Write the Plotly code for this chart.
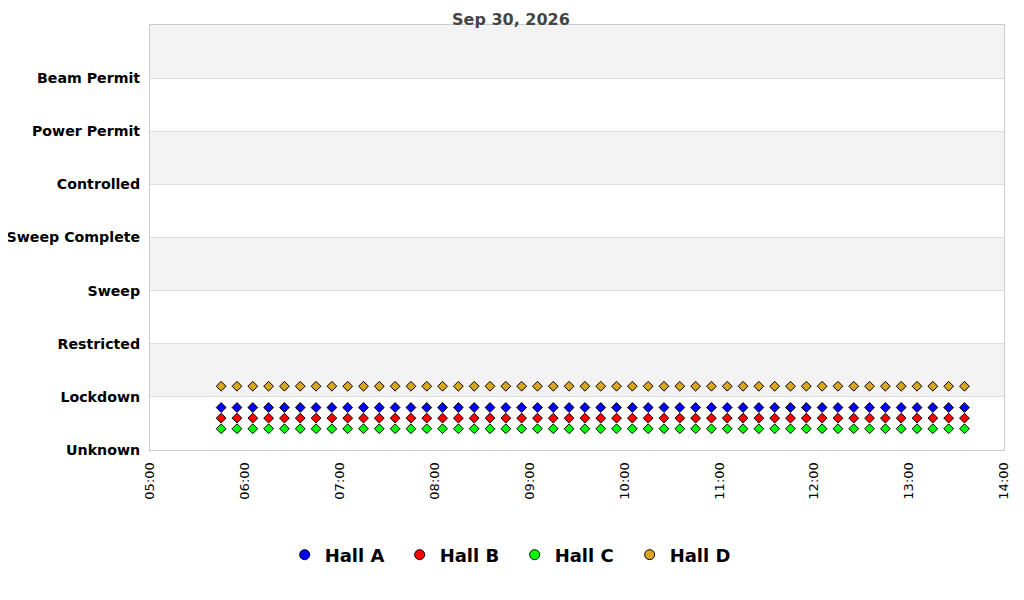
"""Hall interlock state timeline, rebuilt with plotly."""
import plotly.graph_objects as go

# ── data ──────────────────────────────────────────────────────────────────────

DAY = "2026-09-30"

STATES = [
    "Unknown", "Lockdown", "Restricted", "Sweep",
    "Sweep Complete", "Controlled", "Power Permit", "Beam Permit",
]

times = [
    "05:45", "05:55", "06:05", "06:15", "06:25", "06:35", "06:45", "06:55",
    "07:05", "07:15", "07:25", "07:35", "07:45", "07:55", "08:05", "08:15",
    "08:25", "08:35", "08:45", "08:55", "09:05", "09:15", "09:25", "09:35",
    "09:45", "09:55", "10:05", "10:15", "10:25", "10:35", "10:45", "10:55",
    "11:05", "11:15", "11:25", "11:35", "11:45", "11:55", "12:05", "12:15",
    "12:25", "12:35", "12:45", "12:55", "13:05", "13:15", "13:25", "13:35",
]

hall_a = [0.8] * len(times)
hall_b = [0.6] * len(times)
hall_c = [0.4] * len(times)
hall_d = [1.2] * len(times)

x_ticks = ["05:00", "06:00", "07:00", "08:00", "09:00",
           "10:00", "11:00", "12:00", "13:00", "14:00"]

halls = [
    ("Hall A", hall_a, "#0000ff"),
    ("Hall B", hall_b, "#ff0000"),
    ("Hall C", hall_c, "#00ff00"),
    ("Hall D", hall_d, "#daa520"),
]

# ── figure ────────────────────────────────────────────────────────────────────

stamps = [f"{DAY} {t}" for t in times]
tick_vals = [f"{DAY} {t}" for t in x_ticks]

fig = go.Figure()
for name, vals, color in halls:
    fig.add_trace(go.Scatter(
        x=stamps, y=vals, mode="markers", name=name, showlegend=False,
        marker=dict(symbol="diamond", size=7.5, color=color,
                    line=dict(color="black", width=1)),
    ))
    # circle swatch for the legend only
    fig.add_trace(go.Scatter(
        x=[None], y=[None], mode="markers", name=name,
        marker=dict(symbol="circle", size=10, color=color,
                    line=dict(color="black", width=1)),
    ))

# alternating background bands
for lo in range(1, len(STATES) + 1, 2):
    fig.add_shape(type="rect", xref="paper", yref="y", x0=0, x1=1,
                  y0=lo, y1=lo + 1, fillcolor="#f3f3f3", line_width=0,
                  layer="below")

fig.update_layout(
    width=1024, height=600,
    margin=dict(l=142, r=28, t=17, b=158),
    paper_bgcolor="white", plot_bgcolor="white",
    font=dict(family="DejaVu Sans", color="black"),
    showlegend=True,
    legend=dict(orientation="h", x=0.427, xanchor="center", y=-0.247,
                yanchor="middle", entrywidth=70,
                font=dict(family="DejaVu Sans", size=18, color="black",
                          weight="bold")),
    annotations=[dict(
        text="<b>Sep 30, 2026</b>", xref="paper", yref="paper",
        x=0.4227, y=1.04, yanchor="top", showarrow=False,
        font=dict(family="DejaVu Sans", size=16, color="#444"),
    )],
)
fig.update_xaxes(
    type="date", range=[f"{DAY} 05:00", f"{DAY} 14:00"],
    tickvals=tick_vals, ticktext=x_ticks, tickangle=-90,
    tickfont=dict(size=13), showgrid=False, zeroline=False,
    showline=True, linecolor="#cccccc", mirror=True, ticklabelstandoff=6,
    automargin=False,
)
fig.update_yaxes(
    range=[0, len(STATES)], tickvals=list(range(len(STATES))),
    ticktext=[f"<b>{s}</b>" for s in STATES], tickfont=dict(size=14.2),
    showgrid=True, gridcolor="#dddddd", zeroline=False,
    showline=True, linecolor="#cccccc", mirror=True, ticklabelstandoff=6,
    automargin=False,
)

fig.write_html("out.html")
